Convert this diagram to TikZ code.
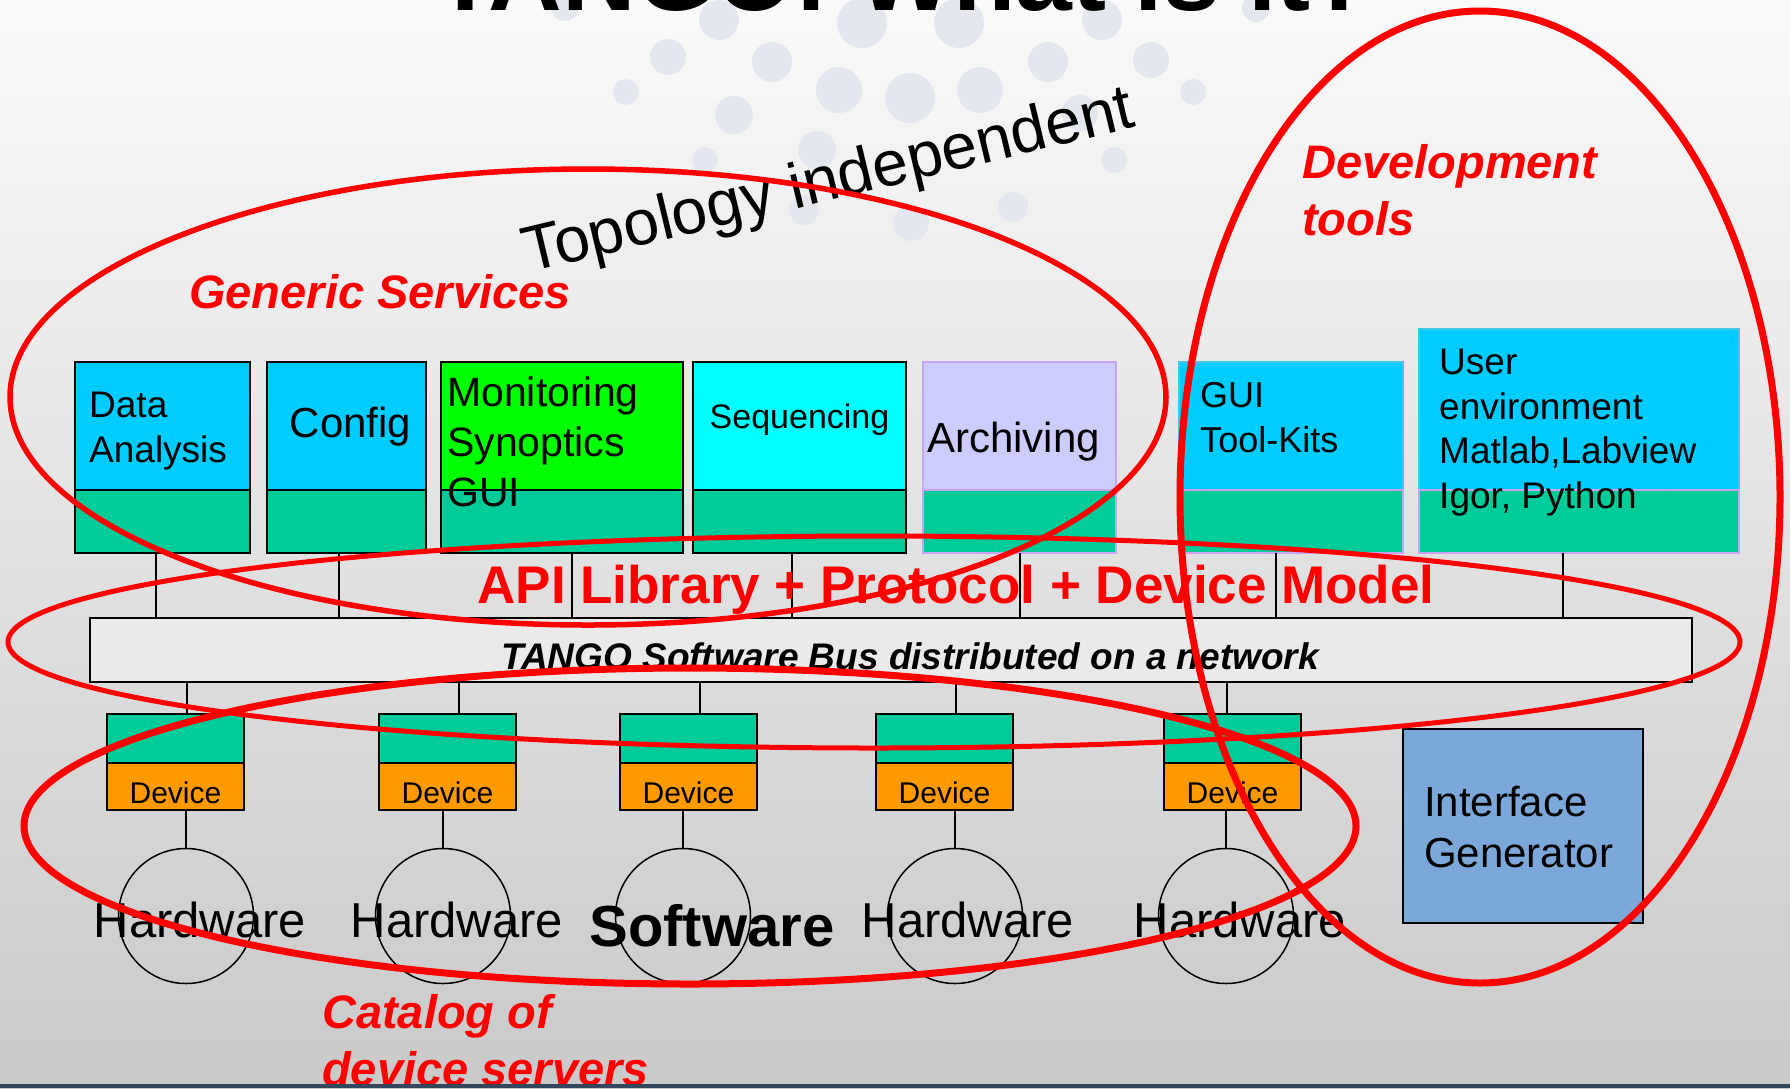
\documentclass[tikz,border=0pt]{standalone}
\usepackage{fontspec}
\setmainfont{Liberation Sans}
\usetikzlibrary{positioning}

\definecolor{svcblue}{HTML}{00CCFF}
\definecolor{svcgreen}{HTML}{00FF00}
\definecolor{svccyan}{HTML}{00FFFF}
\definecolor{svclilac}{HTML}{CCCCFF}
\definecolor{libgreen}{HTML}{00CC99}
\definecolor{devorange}{HTML}{FF9900}
\definecolor{busgray}{HTML}{EAEAEA}
\definecolor{genblue}{HTML}{7CA7D9}
\definecolor{lilacline}{HTML}{C9A3F5}
\definecolor{cyanline}{HTML}{3FC9E6}
\definecolor{dotgray}{HTML}{E4E8EE}
\definecolor{barblue}{HTML}{33475C}

\newcommand{\fsz}[2]{\fontsize{#1}{#2}\selectfont}

\begin{document}
\begin{tikzpicture}[x=1pt,y=-1pt,
		box/.style={rectangle,draw,line width=2pt,inner sep=0pt,outer sep=0pt},
		upper/.style={box,minimum height=128pt},
		lower/.style={box,fill=libgreen,minimum height=63pt},
		txt/.style={inner sep=0pt,align=left},
		devup/.style={box,fill=libgreen,minimum width=137pt,minimum height=49pt},
		devlo/.style={box,fill=devorange,minimum width=137pt,minimum height=47pt,text height=34pt,font=\fsz{30}{36}},
		hwcircle/.style={circle,draw,line width=1.5pt,minimum size=135pt,inner sep=0pt},
		hwtext/.style={inner sep=0pt,anchor=base,font=\fsz{49}{56}},
		redtext/.style={inner sep=0pt,align=left,anchor=base west,text=red,font=\fsz{47}{57}\bfseries\itshape},
		ring/.style={draw=red},
		link/.style={line width=2pt}]

	\useasboundingbox (0,0) rectangle (1790,1088);
	\clip (0,0) rectangle (1790,1088);
	\shade[top color=white!98!black,bottom color=white!79!black] (0,0) rectangle (1790,1088);
	\foreach \dx/\dy/\dr in {565/7/14,719/20/20,862/23/25,959/23/25,1102/20/20,1256/8/14,
			668/57/18,772/62/20,1048/62/20,1151/60/18,626/92/13,839/90/23,910/98/25,980/90/23,
			1193/92/13,734/115/19,1080/113/18,705/160/13,817/150/19,1114/160/13,804/210/15,
			911/223/18,1013/207/15}
		\fill[dotgray] (\dx,\dy) circle[radius=\dr pt];

	\node[inner sep=0pt,anchor=base west,font=\fsz{102}{110}\bfseries] (title) at (434,10) {TANGO: What is it?};

	\node[upper,fill=svcblue,minimum width=175pt,anchor=north west] (da) at (75,362) {};
	\node[upper,fill=svcblue,minimum width=159pt,right=17pt of da] (cf) {};
	\node[upper,fill=svcgreen,minimum width=242pt,right=15pt of cf] (mon) {};
	\node[upper,fill=svccyan,minimum width=213pt,right=10pt of mon] (seq) {};
	\node[upper,fill=svclilac,draw=lilacline,line width=1.5pt,minimum width=193pt,right=17pt of seq] (arc) {};
	\node[upper,fill=svcblue,draw=cyanline,line width=1.5pt,minimum width=224pt,right=63pt of arc] (gui) {};
	\node[upper,fill=svcblue,draw=cyanline,line width=1.5pt,minimum width=320pt,minimum height=161pt,anchor=south west] (usr) at ([xshift=16pt]gui.south east) {};

	\node[lower,minimum width=175pt,below=0pt of da] (da-l) {};
	\node[lower,minimum width=159pt,below=0pt of cf] (cf-l) {};
	\node[lower,minimum width=242pt,below=0pt of mon] (mon-l) {};
	\node[lower,minimum width=213pt,below=0pt of seq] (seq-l) {};
	\node[lower,draw=lilacline,line width=1.5pt,minimum width=193pt,below=0pt of arc] (arc-l) {};
	\node[lower,draw=lilacline,line width=1.5pt,minimum width=224pt,below=0pt of gui] (gui-l) {};
	\node[lower,draw=lilacline,line width=1.5pt,minimum width=320pt,below=0pt of usr] (usr-l) {};

	\node[txt,anchor=base west,font=\fsz{37}{45}] (da-t) at ([xshift=14pt,yshift=-100pt]da.north west) {Data\\Analysis};
	\node[txt,anchor=base,font=\fsz{42}{50}] (cf-t) at ([xshift=4pt,yshift=-75pt]cf.north) {Config};
	\node[txt,anchor=base west,font=\fsz{41}{50}] (mon-t) at ([xshift=6pt,yshift=-144pt]mon.north west) {Monitoring\\Synoptics\\GUI};
	\node[txt,anchor=base,font=\fsz{34}{40}] (seq-t) at ([yshift=-66pt]seq.north) {Sequencing};
	\node[txt,anchor=base west,font=\fsz{42}{50}] (arc-t) at ([xshift=4pt,yshift=-90pt]arc.north west) {Archiving};
	\node[txt,anchor=base west,font=\fsz{36}{45}] (gui-t) at ([xshift=21pt,yshift=-90pt]gui.north west) {GUI\\Tool-Kits};
	\node[txt,anchor=base west,font=\fsz{37}{44.5}] (usr-t) at ([xshift=20pt,yshift=-179pt]usr.north west) {User\\environment\\Matlab,Labview\\Igor, Python};

	\node[box,fill=busgray,line width=2.5pt,minimum width=1602pt,minimum height=64pt,anchor=north west] (bus) at (90,618) {};
	\node[inner sep=0pt,anchor=base,font=\fsz{37}{44}\bfseries\itshape] (bus-t) at ([xshift=19pt,yshift=-19pt]bus.center) {TANGO Software Bus distributed on a network};

	\foreach \b/\s in {da/-6.5,cf/-7.5,mon/10,seq/-8,arc/0,gui/-15,usr/-16}
		\draw[link] ([xshift=\s pt]\b-l.south) -- ([xshift=\s pt]\b-l.south |- bus.north);

	\node[inner sep=0pt,anchor=base,text=red,font=\fsz{53}{60}\bfseries] (api) at ([xshift=65pt,yshift=15pt]bus.north) {API Library + Protocol + Device Model};

	\node[devup,anchor=north west] (dg1) at (107,714) {};
	\node[devup,right=135pt of dg1] (dg2) {};
	\node[devup,right=104pt of dg2] (dg3) {};
	\node[devup,right=119pt of dg3] (dg4) {};
	\node[devup,right=151pt of dg4] (dg5) {};
	\foreach \i in {1,...,5}
		\node[devlo,below=0pt of dg\i] (do\i) {Device};

	\foreach \i/\s in {1/11,2/11,3/11,4/11.5,5/-5.5}
		\draw[link] ([xshift=\s pt]dg\i.north) -- ([xshift=\s pt]dg\i.north |- bus.south);

	\foreach \i/\x in {1/186,2/443,3/683,4/955,5/1226}
		\node[hwcircle] (hw\i) at (\x,916) {};
	\foreach \i in {1,...,5}
		\draw[link,line width=1.5pt] (hw\i.north |- do\i.south) -- (hw\i.north);

	\node[hwtext] (hwl1) at ([xshift=14pt,yshift=-21pt]hw1.center) {Hardware};
	\node[hwtext] (hwl2) at ([xshift=14pt,yshift=-21pt]hw2.center) {Hardware};
	\node[hwtext,font=\fsz{58}{64}\bfseries] (swl) at ([xshift=29pt,yshift=-30pt]hw3.center) {Software};
	\node[hwtext] (hwl4) at ([xshift=13pt,yshift=-21pt]hw4.center) {Hardware};
	\node[hwtext] (hwl5) at ([xshift=14pt,yshift=-21pt]hw5.center) {Hardware};

	\node[box,fill=genblue,line width=2.5pt,minimum width=240pt,minimum height=194pt,anchor=north west] (ifg) at (1403,729) {};
	\node[txt,anchor=base west,font=\fsz{42}{51}] (ifg-t) at ([xshift=21pt,yshift=-138pt]ifg.north west) {Interface\\Generator};

	\node[redtext] (gen-t) at (189,308) {Generic Services};
	\node[redtext] (dev-t) at (1302,235) {Development\\tools};
	\node[redtext] (cat-t) at (322,1085) {Catalog of\\device servers};
	\node[inner sep=0pt,anchor=base west,rotate=13.5,font=\fsz{64}{70}] (topo) at (528,273) {Topology independent};

	\draw[ring,line width=5.5pt] (588,397) ellipse [x radius=578pt,y radius=228pt];
	\draw[ring,line width=5pt] (874,642) ellipse [x radius=866pt,y radius=106pt];
	\draw[ring,line width=7pt] (690,826) ellipse [x radius=666pt,y radius=158pt];
	\draw[ring,line width=7pt] (1480,497) ellipse [x radius=300pt,y radius=486pt];

	\fill[barblue] (0,1084) rectangle (1790,1088);
\end{tikzpicture}
\end{document}
